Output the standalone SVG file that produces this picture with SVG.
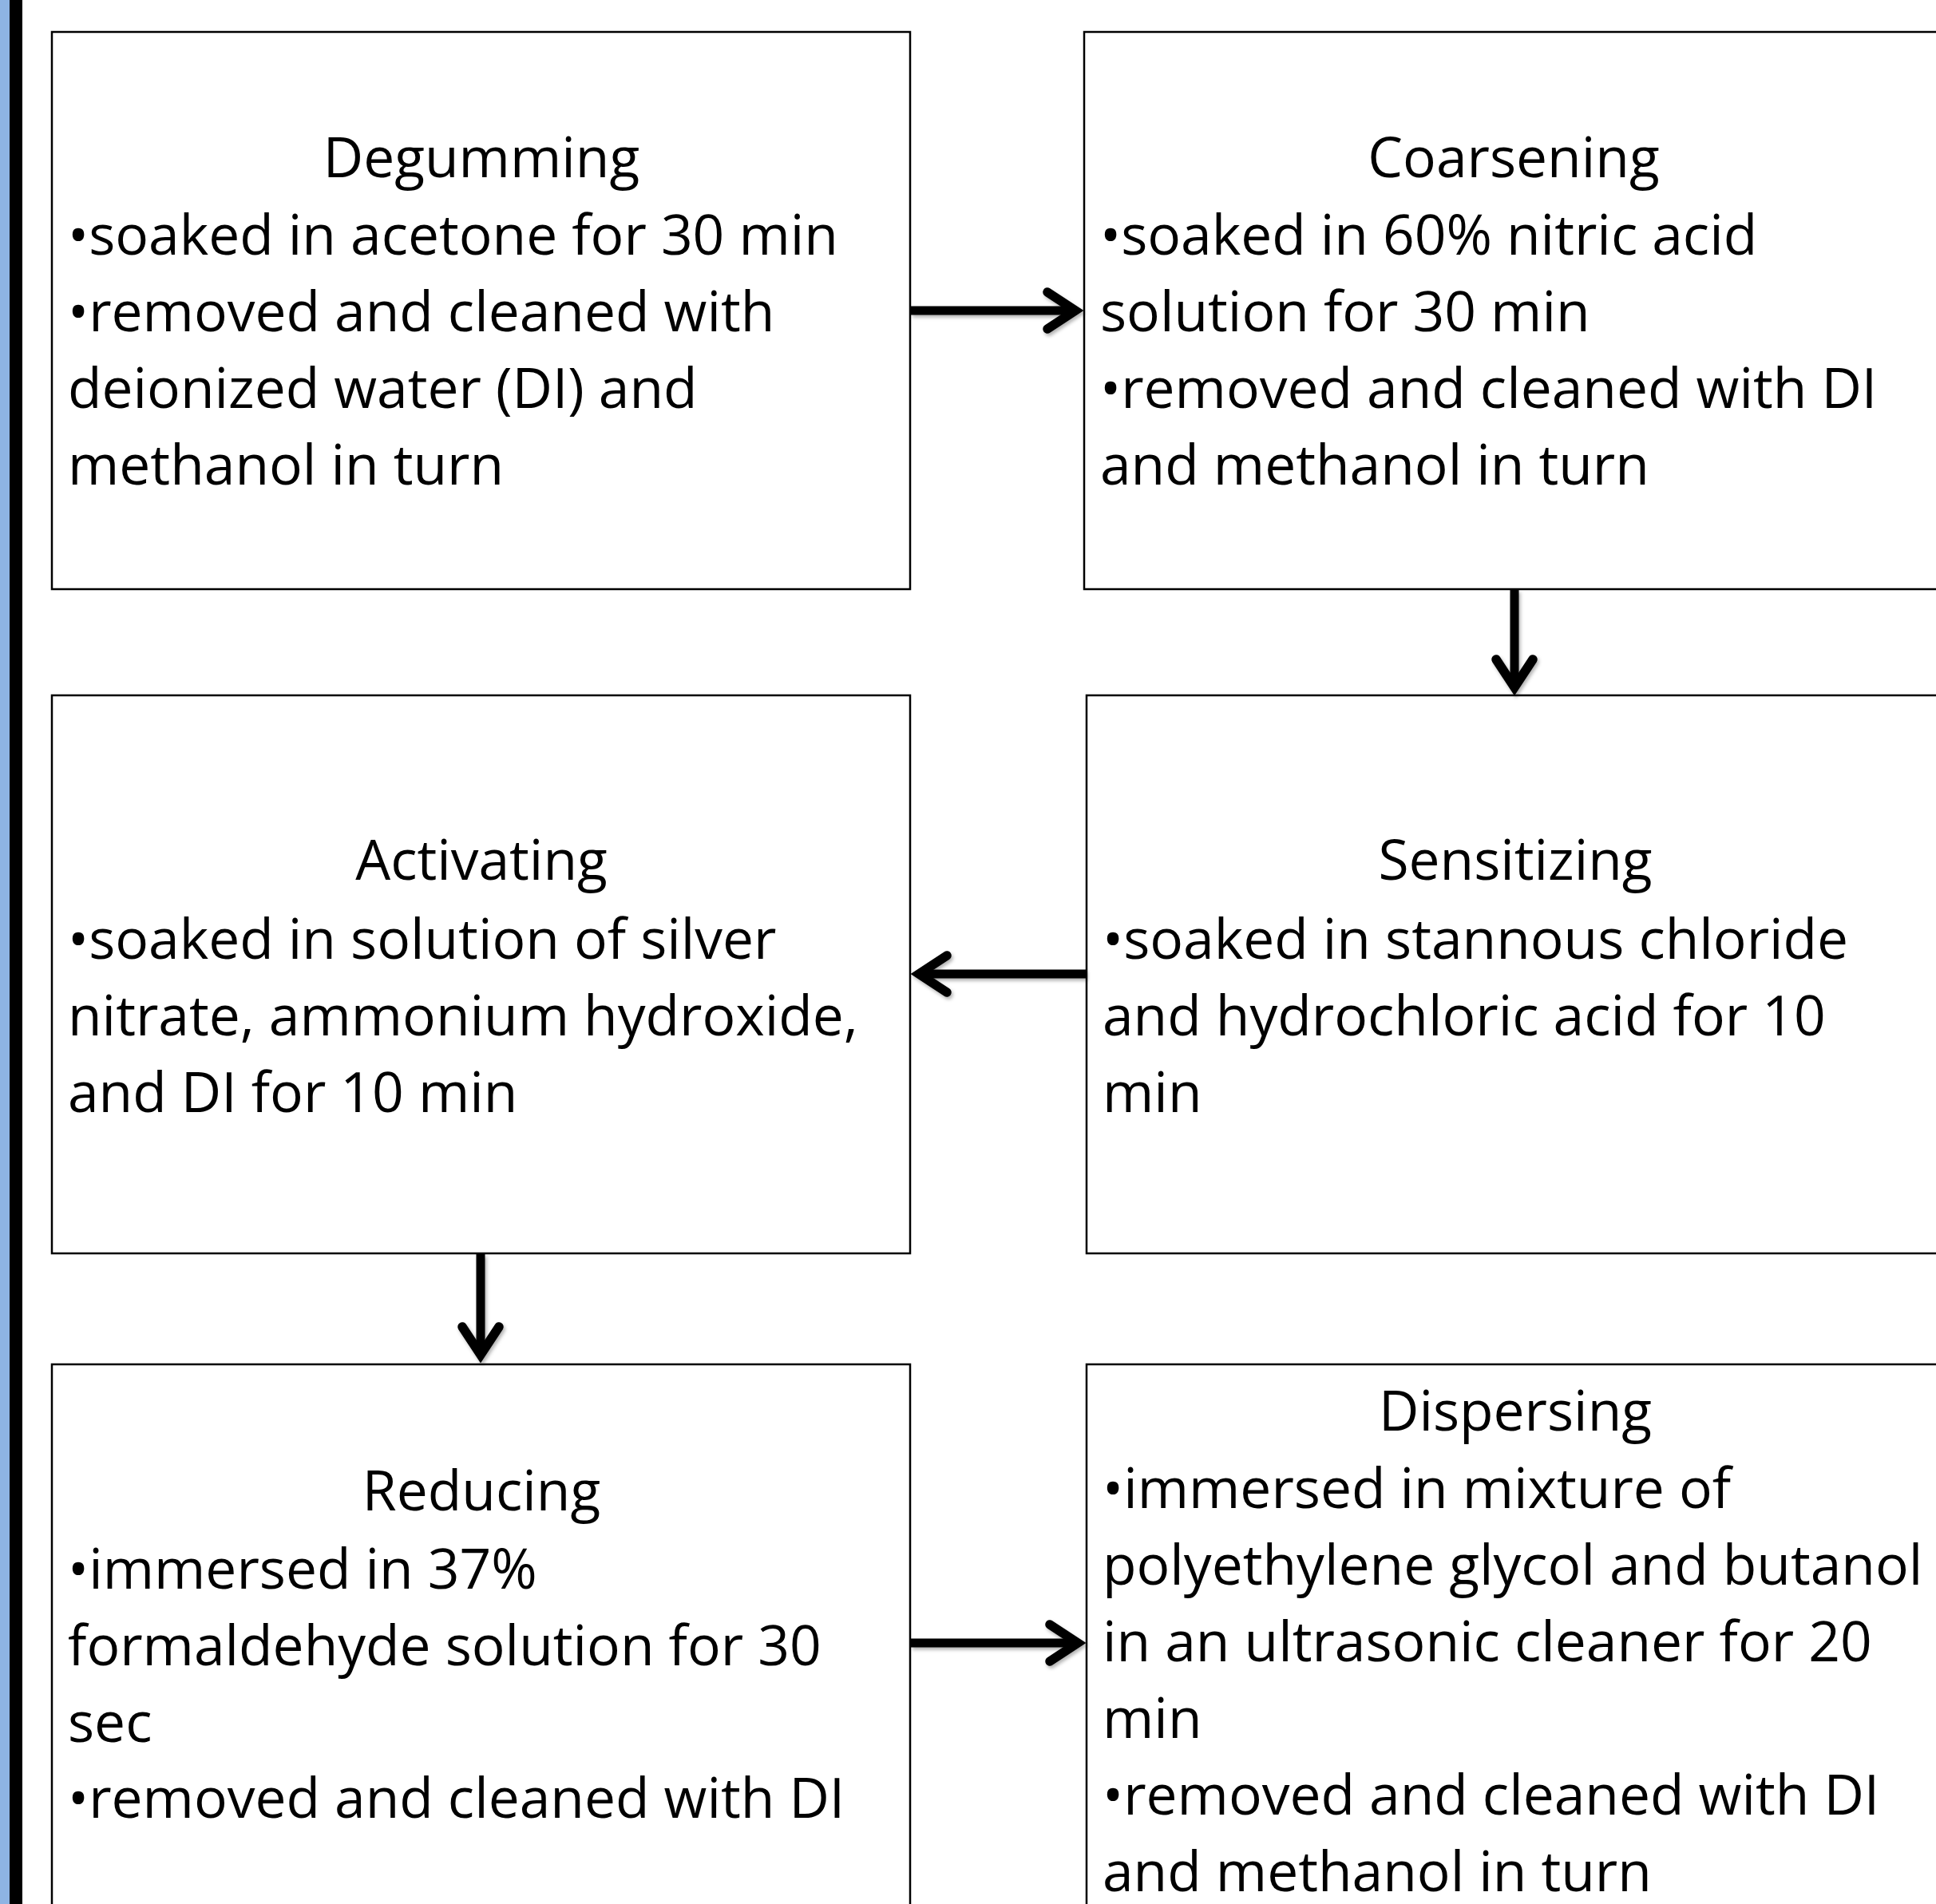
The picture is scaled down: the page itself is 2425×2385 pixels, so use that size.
<svg xmlns="http://www.w3.org/2000/svg" width="2425" height="2385" viewBox="0 0 2425 2385">
  <style>
    .box { fill: #ffffff; stroke: #000000; stroke-width: 2.5; }
    .t { font-family: "Open Sans", "Noto Sans", "Liberation Sans", sans-serif; font-size: 69.5px; fill: #000000; }
    .title { text-anchor: middle; }
    .conn { stroke: #000000; stroke-width: 11; fill: none; }
    .head { stroke: #000000; stroke-width: 11.5; fill: none; stroke-linecap: round; stroke-linejoin: miter; stroke-miterlimit: 10; }
  </style>
  <defs>
    <filter id="sh" x="-20%" y="-20%" width="140%" height="140%">
      <feDropShadow dx="2" dy="3" stdDeviation="2" flood-color="#000000" flood-opacity="0.3"/>
    </filter>
    <marker id="arrow" markerUnits="userSpaceOnUse" markerWidth="80" markerHeight="80" refX="0" refY="0" orient="auto" overflow="visible">
      <path class="head" d="M -35 -23 L 0 0 L -35 23"/>
    </marker>
  </defs>

  <rect x="0" y="0" width="2425" height="2385" fill="#ffffff"/>
  <rect x="0" y="0" width="12" height="2385" fill="#8EB4E3"/>
  <rect x="12" y="0" width="16" height="2385" fill="#000000"/>

  <g id="degumming">
    <rect class="box" x="65" y="40" width="1075" height="698"/>
    <text class="t title" x="603" y="222">Degumming</text>
    <text class="t" x="85" y="319">•soaked in acetone for 30 min</text>
    <text class="t" x="85" y="415">•removed and cleaned with</text>
    <text class="t" x="85" y="511">deionized water (DI) and</text>
    <text class="t" x="85" y="607">methanol in turn</text>
  </g>

  <g id="coarsening">
    <rect class="box" x="1358" y="40" width="1075" height="698"/>
    <text class="t title" x="1896" y="222">Coarsening</text>
    <text class="t" x="1378" y="319">•soaked in 60% nitric acid</text>
    <text class="t" x="1378" y="415">solution for 30 min</text>
    <text class="t" x="1378" y="511">•removed and cleaned with DI</text>
    <text class="t" x="1378" y="607">and methanol in turn</text>
  </g>

  <g id="activating">
    <rect class="box" x="65" y="871" width="1075" height="699"/>
    <text class="t title" x="603" y="1102">Activating</text>
    <text class="t" x="85" y="1201">•soaked in solution of silver</text>
    <text class="t" x="85" y="1297">nitrate, ammonium hydroxide,</text>
    <text class="t" x="85" y="1393">and DI for 10 min</text>
  </g>

  <g id="sensitizing">
    <rect class="box" x="1361" y="871" width="1075" height="699"/>
    <text class="t title" x="1898" y="1102">Sensitizing</text>
    <text class="t" x="1381" y="1201">•soaked in stannous chloride</text>
    <text class="t" x="1381" y="1297">and hydrochloric acid for 10</text>
    <text class="t" x="1381" y="1393">min</text>
  </g>

  <g id="reducing">
    <rect class="box" x="65" y="1709" width="1075" height="700"/>
    <text class="t title" x="603" y="1892">Reducing</text>
    <text class="t" x="85" y="1990">•immersed in 37%</text>
    <text class="t" x="85" y="2086">formaldehyde solution for 30</text>
    <text class="t" x="85" y="2182">sec</text>
    <text class="t" x="85" y="2277">•removed and cleaned with DI</text>
  </g>

  <g id="dispersing">
    <rect class="box" x="1361" y="1709" width="1075" height="700"/>
    <text class="t title" x="1898" y="1792">Dispersing</text>
    <text class="t" x="1381" y="1889">•immersed in mixture of</text>
    <text class="t" x="1381" y="1985">polyethylene glycol and butanol</text>
    <text class="t" x="1381" y="2081">in an ultrasonic cleaner for 20</text>
    <text class="t" x="1381" y="2177">min</text>
    <text class="t" x="1381" y="2273">•removed and cleaned with DI</text>
    <text class="t" x="1381" y="2369">and methanol in turn</text>
  </g>

  <g id="connectors" filter="url(#sh)">
    <line class="conn" x1="1141" y1="389" x2="1347" y2="389" marker-end="url(#arrow)"/>
    <line class="conn" x1="1897" y1="739" x2="1897" y2="861" marker-end="url(#arrow)"/>
    <line class="conn" x1="1360" y1="1220" x2="1151" y2="1220" marker-end="url(#arrow)"/>
    <line class="conn" x1="602" y1="1571" x2="602" y2="1697" marker-end="url(#arrow)"/>
    <line class="conn" x1="1141" y1="2058" x2="1350" y2="2058" marker-end="url(#arrow)"/>
  </g>
</svg>
